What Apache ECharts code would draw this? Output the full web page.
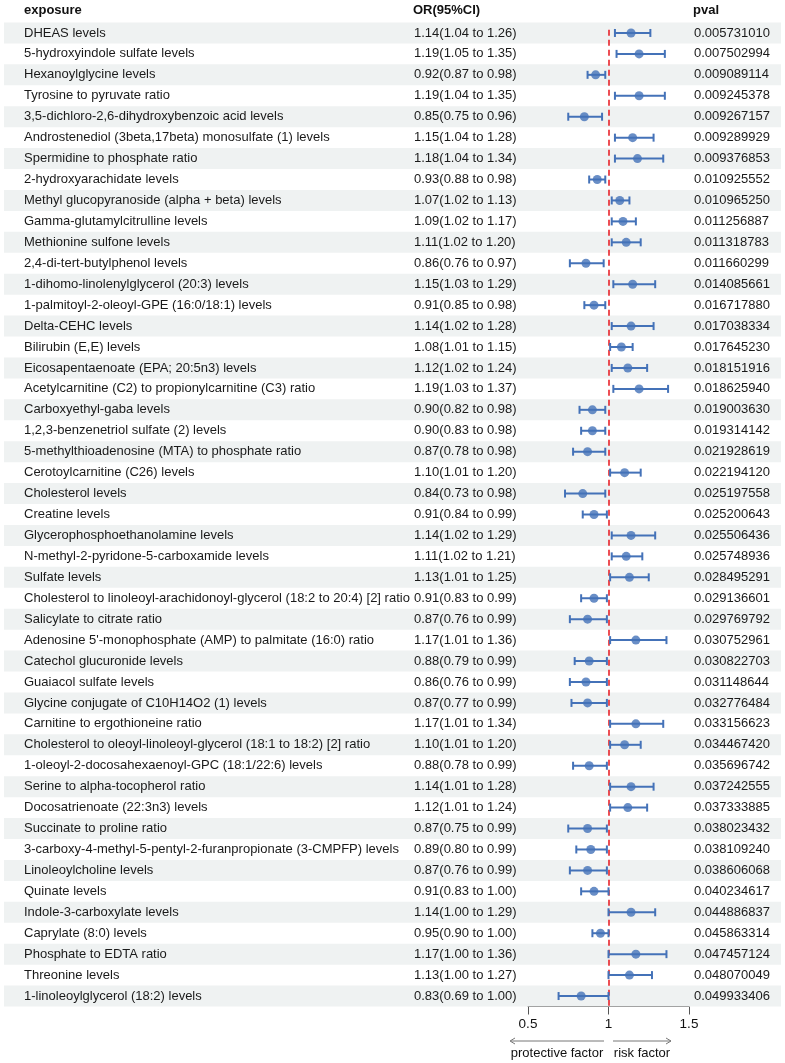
<!DOCTYPE html>
<html><head><meta charset="utf-8">
<script src="https://cdn.jsdelivr.net/npm/echarts@6/dist/echarts.min.js"></script>
<style>html,body{margin:0;padding:0;background:#fff}#c{width:785px;height:1063px}</style>
</head><body><div id="c"></div>
<script>
const exposures = [
"DHEAS levels","5-hydroxyindole sulfate levels","Hexanoylglycine levels","Tyrosine to pyruvate ratio",
"3,5-dichloro-2,6-dihydroxybenzoic acid levels","Androstenediol (3beta,17beta) monosulfate (1) levels",
"Spermidine to phosphate ratio","2-hydroxyarachidate levels","Methyl glucopyranoside (alpha + beta) levels",
"Gamma-glutamylcitrulline levels","Methionine sulfone levels","2,4-di-tert-butylphenol levels",
"1-dihomo-linolenylglycerol (20:3) levels","1-palmitoyl-2-oleoyl-GPE (16:0/18:1) levels","Delta-CEHC levels",
"Bilirubin (E,E) levels","Eicosapentaenoate (EPA; 20:5n3) levels","Acetylcarnitine (C2) to propionylcarnitine (C3) ratio",
"Carboxyethyl-gaba levels","1,2,3-benzenetriol sulfate (2) levels","5-methylthioadenosine (MTA) to phosphate ratio",
"Cerotoylcarnitine (C26) levels","Cholesterol levels","Creatine levels","Glycerophosphoethanolamine levels",
"N-methyl-2-pyridone-5-carboxamide levels","Sulfate levels",
"Cholesterol to linoleoyl-arachidonoyl-glycerol (18:2 to 20:4) [2] ratio","Salicylate to citrate ratio",
"Adenosine 5'-monophosphate (AMP) to palmitate (16:0) ratio","Catechol glucuronide levels","Guaiacol sulfate levels",
"Glycine conjugate of C10H14O2 (1) levels","Carnitine to ergothioneine ratio",
"Cholesterol to oleoyl-linoleoyl-glycerol (18:1 to 18:2) [2] ratio","1-oleoyl-2-docosahexaenoyl-GPC (18:1/22:6) levels",
"Serine to alpha-tocopherol ratio","Docosatrienoate (22:3n3) levels","Succinate to proline ratio",
"3-carboxy-4-methyl-5-pentyl-2-furanpropionate (3-CMPFP) levels","Linoleoylcholine levels","Quinate levels",
"Indole-3-carboxylate levels","Caprylate (8:0) levels","Phosphate to EDTA ratio","Threonine levels",
"1-linoleoylglycerol (18:2) levels"];
const orValues = [1.14,1.19,0.92,1.19,0.85,1.15,1.18,0.93,1.07,1.09,1.11,0.86,1.15,0.91,1.14,1.08,1.12,1.19,0.90,0.90,0.87,1.10,0.84,0.91,1.14,1.11,1.13,0.91,0.87,1.17,0.88,0.86,0.87,1.17,1.10,0.88,1.14,1.12,0.87,0.89,0.87,0.91,1.14,0.95,1.17,1.13,0.83];
const lowerCI = [1.04,1.05,0.87,1.04,0.75,1.04,1.04,0.88,1.02,1.02,1.02,0.76,1.03,0.85,1.02,1.01,1.02,1.03,0.82,0.83,0.78,1.01,0.73,0.84,1.02,1.02,1.01,0.83,0.76,1.01,0.79,0.76,0.77,1.01,1.01,0.78,1.01,1.01,0.75,0.80,0.76,0.83,1.00,0.90,1.00,1.00,0.69];
const upperCI = [1.26,1.35,0.98,1.35,0.96,1.28,1.34,0.98,1.13,1.17,1.20,0.97,1.29,0.98,1.28,1.15,1.24,1.37,0.98,0.98,0.98,1.20,0.98,0.99,1.29,1.21,1.25,0.99,0.99,1.36,0.99,0.99,0.99,1.34,1.20,0.99,1.28,1.24,0.99,0.99,0.99,1.00,1.29,1.00,1.36,1.27,1.00];
const pvals = ["0.005731010","0.007502994","0.009089114","0.009245378","0.009267157","0.009289929","0.009376853","0.010925552","0.010965250","0.011256887","0.011318783","0.011660299","0.014085661","0.016717880","0.017038334","0.017645230","0.018151916","0.018625940","0.019003630","0.019314142","0.021928619","0.022194120","0.025197558","0.025200643","0.025506436","0.025748936","0.028495291","0.029136601","0.029769792","0.030752961","0.030822703","0.031148644","0.032776484","0.033156623","0.034467420","0.035696742","0.037242555","0.037333885","0.038023432","0.038109240","0.038606068","0.040234617","0.044886837","0.045863314","0.047457124","0.048070049","0.049933406"];
const xTicks = [0.5, 1, 1.5];

const N = exposures.length;
const FONT = '"Liberation Sans", Arial, sans-serif';
const FS = 13;
const BLUE = '#4472b8';
const fmt = v => v.toFixed(2);
const orText = orValues.map((v,i)=> fmt(v)+'('+fmt(lowerCI[i])+' to '+fmt(upperCI[i])+')');

const chart = echarts.init(document.getElementById('c'), null, {renderer:'canvas'});
const TOP = 22.5, H = 984;
const option = {
  animation:false,
  grid:[
    {left:4, width:777, top:TOP, height:H},
    {left:528, width:161, top:TOP, height:H}
  ],
  xAxis:[
    {gridIndex:0, type:'value', min:0, max:777, show:false},
    {gridIndex:1, type:'value', min:0.5, max:1.5, interval:0.5, position:'bottom',
     axisLine:{show:true, onZero:false, lineStyle:{color:'#555', width:1}},
     axisTick:{show:true, length:8, lineStyle:{color:'#555'}},
     splitLine:{show:false},
     axisLabel:{color:'#111', fontSize:13.5, fontFamily:FONT, margin:11,
       formatter: v => xTicks.indexOf(v) >= 0 ? String(v) : ''}}
  ],
  yAxis:[
    {gridIndex:0, type:'value', min:0, max:N, inverse:true, show:false},
    {gridIndex:1, type:'value', min:0, max:N, inverse:true, show:false}
  ],
  graphic:[
    {type:'text', left:24, top:4, style:{text:'exposure', font:'bold 13px '+FONT, fill:'#111'}},
    {type:'text', left:413, top:4, style:{text:'OR(95%CI)', font:'bold 13px '+FONT, fill:'#111'}},
    {type:'text', left:693, top:4, style:{text:'pval', font:'bold 13px '+FONT, fill:'#111'}},
    {type:'polyline', shape:{points:[[604,1041],[511,1041]]}, style:{stroke:'#777', lineWidth:1}},
    {type:'polyline', shape:{points:[[515,1038],[510,1041],[515,1044]]}, style:{stroke:'#777', fill:null, lineWidth:1}},
    {type:'polyline', shape:{points:[[613,1041],[671,1041]]}, style:{stroke:'#777', lineWidth:1}},
    {type:'polyline', shape:{points:[[666,1038],[671,1041],[666,1044]]}, style:{stroke:'#777', fill:null, lineWidth:1}},
    {type:'text', x:557, y:1053, style:{text:'protective factor', font:'13px '+FONT, fill:'#111', textAlign:'center', textVerticalAlign:'middle'}},
    {type:'text', x:642, y:1053, style:{text:'risk factor', font:'13px '+FONT, fill:'#111', textAlign:'center', textVerticalAlign:'middle'}}
  ],
  series:[
    {
      type:'custom', xAxisIndex:0, yAxisIndex:0, z:1,
      data: exposures.map((e,i)=>[i]),
      renderItem:(params, api)=>{
        const i = api.value(0);
        const p0 = api.coord([0, i]);
        const p1 = api.coord([777, i+1]);
        const yc = (p0[1]+p1[1])/2;
        const children = [];
        if (i % 2 === 0) {
          children.push({type:'rect', shape:{x:p0[0], y:p0[1], width:p1[0]-p0[0], height:p1[1]-p0[1]}, style:{fill:'#eff2f2'}});
        }
        const st = (t,x)=>({type:'text', x:x, y:yc, style:{text:t, font:FS+'px '+FONT, fill:'#1a1a1a', textVerticalAlign:'middle'}});
        children.push(st(exposures[i], 24));
        children.push(st(orText[i], 414));
        children.push(st(pvals[i], 694));
        return {type:'group', children};
      }
    },
    {
      type:'custom', xAxisIndex:1, yAxisIndex:1, z:5, clip:false,
      data: orValues.map((v,i)=>[lowerCI[i], upperCI[i], i]),
      renderItem:(params, api)=>{
        const lo = api.coord([api.value(0), api.value(2)+0.5]);
        const hi = api.coord([api.value(1), api.value(2)+0.5]);
        const c = 4;
        const s = {stroke:BLUE, lineWidth:2};
        return {type:'group', children:[
          {type:'line', shape:{x1:lo[0], y1:lo[1], x2:hi[0], y2:hi[1]}, style:s},
          {type:'line', shape:{x1:lo[0], y1:lo[1]-c, x2:lo[0], y2:lo[1]+c}, style:s},
          {type:'line', shape:{x1:hi[0], y1:hi[1]-c, x2:hi[0], y2:hi[1]+c}, style:s}
        ]};
      }
    },
    {
      type:'scatter', xAxisIndex:1, yAxisIndex:1, z:6,
      symbol:'circle', symbolSize:9,
      itemStyle:{color:BLUE},
      data: orValues.map((v,i)=>[v, i+0.5]),
      markLine:{
        silent:true, symbol:'none', label:{show:false},
        lineStyle:{color:'#e8141c', type:[6,4], width:1.5},
        data:[[{coord:[1, 0.35]}, {coord:[1, N]}]]
      }
    }
  ]
};
chart.setOption(option);
</script></body></html>
